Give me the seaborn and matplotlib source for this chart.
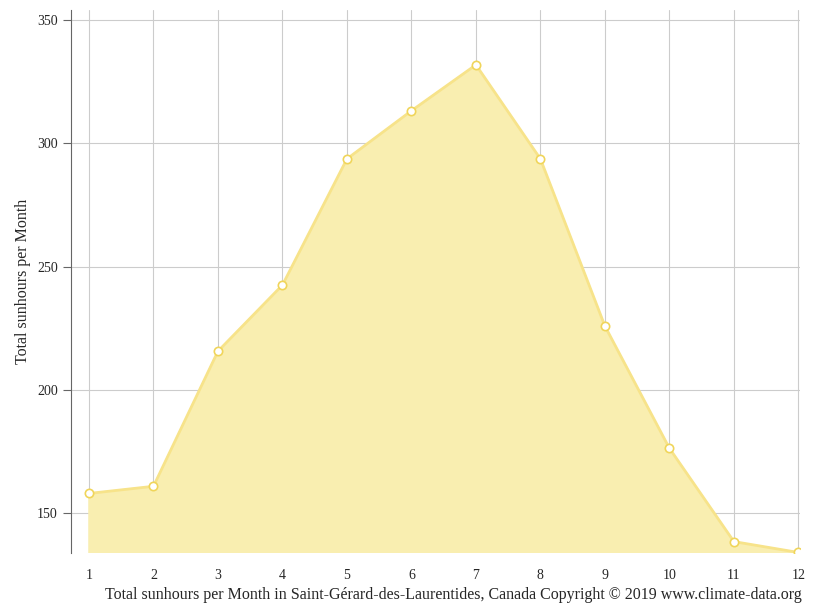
import matplotlib
matplotlib.use("Agg")
import matplotlib.pyplot as plt
import seaborn as sns
import pandas as pd

# monthly sunshine hours
months = [1, 2, 3, 4, 5, 6, 7, 8, 9, 10, 11, 12]
sunhours = [158.1, 161.0, 215.7, 242.5, 293.6, 313.1, 331.7, 293.6, 225.9, 176.4, 138.6, 134.2]
yticks = [150, 200, 250, 300, 350]

df = pd.DataFrame({"Month": months, "Sunhours": sunhours})

sns.set_style("white")
plt.rcParams["font.family"] = ["Liberation Serif", "DejaVu Serif"]

fig = plt.figure(figsize=(8.15, 6.11), dpi=100)
ax = fig.add_axes([0.087, 0.095, 0.895, 0.889])

ax.fill_between(df["Month"], df["Sunhours"], 0, color="#f9eeb0", zorder=2)
sns.lineplot(data=df, x="Month", y="Sunhours", ax=ax, color="#f7e38a", linewidth=2,
             marker="o", markersize=6, markerfacecolor="white",
             markeredgecolor="#f0d55a", markeredgewidth=1.2, zorder=3)

ax.set_xlim(0.72, 12.03)
ax.set_ylim(134, 354)
ax.set_xticks(months)
ax.set_yticks(yticks)
ax.grid(True, color="#cccccc", linewidth=0.8, zorder=1)
ax.set_axisbelow(True)
for s in ["top", "right", "bottom"]:
    ax.spines[s].set_visible(False)
ax.spines["left"].set_color("#666666")
ax.tick_params(axis="y", left=True, length=6, color="#666666", labelsize=10)
ax.tick_params(axis="x", bottom=False, labelsize=10, pad=8)
ax.set_xlabel("")
ax.set_ylabel("Total sunhours per Month", fontsize=11.5)
fig.text(0.984, 0.02, "Total sunhours per Month in Saint-Gérard-des-Laurentides, Canada Copyright © 2019 www.climate-data.org",
         ha="right", fontsize=11.5)

fig.savefig("out.png", dpi=100)
